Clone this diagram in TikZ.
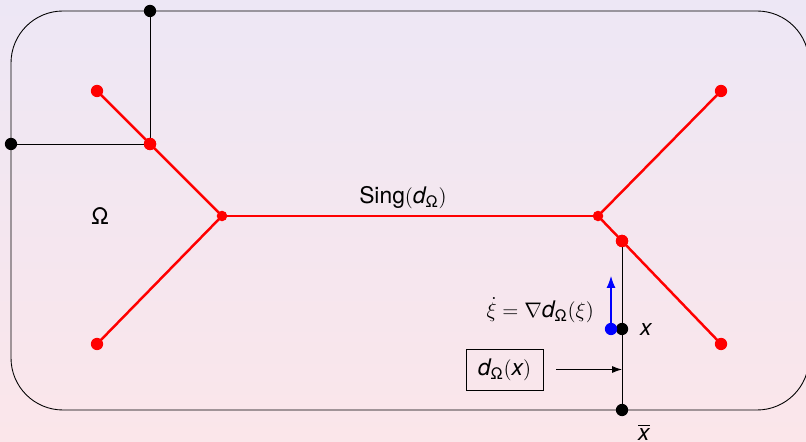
\documentclass[tikz,border=0pt]{standalone}
\usepackage{fontspec}
\setmainfont{TeX Gyre Heros}
\usepackage{amsmath,amssymb}
\usetikzlibrary{arrows.meta}
\definecolor{bgtop}{RGB}{237,231,245}
\definecolor{bgbot}{RGB}{251,230,234}
\newcommand{\vd}{\textit{d}}
\newcommand{\vx}{\textit{x}}
\newcommand{\sOm}{\text{\upshape Ω}}
\tikzset{
  sing/.style={red, line width=1.4pt},
  rdot/.style={circle, fill=red, inner sep=0pt, minimum size=7pt},
  bdot/.style={circle, fill=black, inner sep=0pt, minimum size=7pt},
  thin line/.style={black, line width=0.5pt}
}

\begin{document}
\begin{tikzpicture}[x=1cm, y=1cm, font=\fontsize{13}{15}\selectfont]
    % fond
    \shade[top color=bgtop, bottom color=bgbot] (0,0) rectangle (16.12,8.84);
    \useasboundingbox (0,0) rectangle (16.12,8.84);
    \begin{scope}
        \clip (0,0) rectangle (16.12,8.84);
        % Domaine Omega
        \draw[thin line, rounded corners=1.04cm] (0.22,0.64) rectangle (16.18,8.62);
    \end{scope}
    \node (omega) at (2.0,4.52) {\sOm};

    % Ensemble singulier
    \node[rdot] (ul) at (1.94,7.02) {};
    \node[rdot] (ll) at (1.94,1.96) {};
    \node[rdot, minimum size=6pt] (jl) at (4.44,4.52) {};
    \node[rdot, minimum size=6pt] (jr) at (11.96,4.52) {};
    \node[rdot] (ur) at (14.42,7.02) {};
    \node[rdot] (lr) at (14.42,1.96) {};
    \node[rdot] (pl) at (3.0,5.96) {};
    \node[rdot] (pr) at (12.44,4.02) {};
    \draw[sing] (ul.center) -- (jl.center) -- (ll.center);
    \draw[sing] (jl.center) -- (jr.center);
    \draw[sing] (ur.center) -- (jr.center) -- (lr.center);
    \node[anchor=south] (sing) at (8.06,4.55) {Sing$(\vd_\sOm)$};

    % Projections sur le bord
    \node[bdot] (top) at (3.0,8.62) {};
    \node[bdot] (left) at (0.22,5.96) {};
    \draw[thin line] (top.center) -- (pl.center) -- (left.center);
    \node[rdot] at (pl) {};

    % Point x et sa projection
    \node[bdot] (x) at (12.44,2.26) {};
    \node[bdot] (xbar) at (12.44,0.64) {};
    \draw[thin line] (pr.center) -- (xbar.center);
    \node[anchor=west] (xlab) at (12.68,2.24) {$\vx$};
    \node[anchor=west] (xbarlab) at (12.64,0.2) {$\overline{\vx}$};
    \node[rdot] at (pr) {};

    % Flot du gradient
    \node[circle, fill=blue, inner sep=0pt, minimum size=7pt] (xi) at (12.22,2.26) {};
    \coordinate (xitip) at (12.22,3.32);
    \draw[blue, line width=0.6pt, -{Latex[length=2.4mm, width=1.8mm]}] (xi.center) -- (xitip);
    \node[anchor=east] (flot) at (12.0,2.64) {$\dot{\xi}=\nabla \vd_\sOm(\xi)$};

    % Distance
    \node[draw, thin line, minimum width=1.54cm, minimum height=0.82cm, inner sep=2pt] (dist) at (10.09,1.45) {$\vd_\sOm(\vx)$};
    \coordinate (dtip) at (12.44,1.45);
    \draw[thin line, -{Latex[length=2mm, width=1.4mm]}] ([xshift=0.26cm]dist.east) -- (dtip);
\end{tikzpicture}
\end{document}
